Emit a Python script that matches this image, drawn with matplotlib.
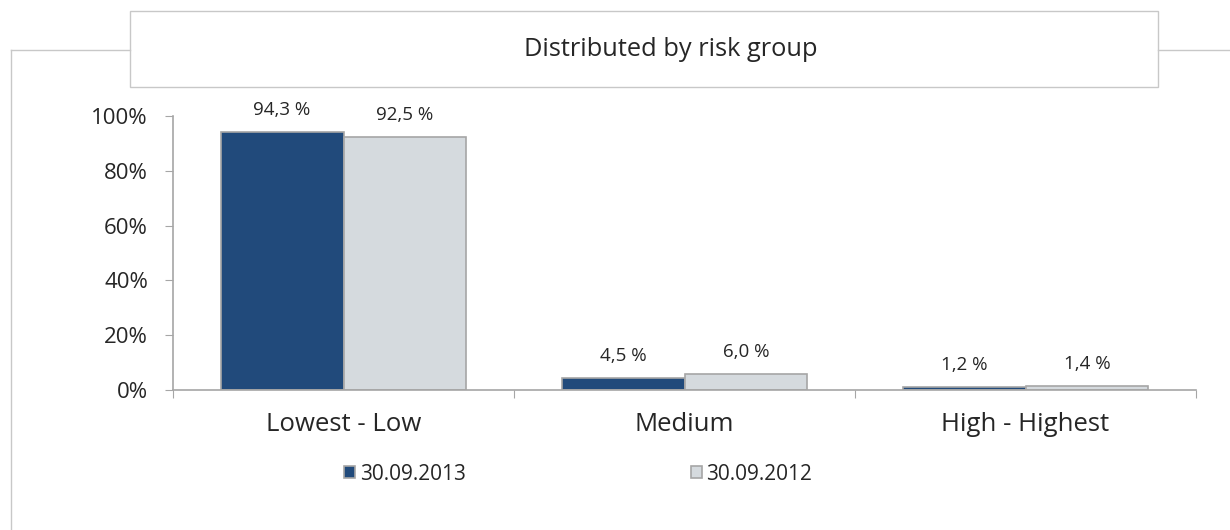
import matplotlib.pyplot as plt
from matplotlib.patches import Rectangle
from matplotlib.lines import Line2D
import numpy as np

# data
categories = ['Lowest - Low', 'Medium', 'High - Highest']
series_names = ['30.09.2013', '30.09.2012']
values_2013 = [94.3, 4.5, 1.2]
values_2012 = [92.5, 6.0, 1.4]
y_ticks = [0, 20, 40, 60, 80, 100]

plt.rcParams['font.family'] = ['Open Sans', 'DejaVu Sans']
text_col = '#262626'
frame_col = '#C8C8C8'
axis_col = '#A6A6A6'
dark = '#214A7B'
light = '#D5DADE'

W, H = 1230, 530
fig = plt.figure(figsize=(W / 100, H / 100), dpi=100)

# outer frame lines and title box
fig.add_artist(Line2D([11 / W, 11 / W], [0, 1 - 50 / H], transform=fig.transFigure, color=frame_col, lw=1))
fig.add_artist(Line2D([11 / W, 130 / W], [1 - 50 / H, 1 - 50 / H], transform=fig.transFigure, color=frame_col, lw=1))
fig.add_artist(Line2D([1158 / W, 1], [1 - 50 / H, 1 - 50 / H], transform=fig.transFigure, color=frame_col, lw=1))
fig.add_artist(Rectangle((130 / W, 1 - 87 / H), (1158 - 130) / W, 76 / H, transform=fig.transFigure,
                         facecolor='white', edgecolor=frame_col, lw=1))
fig.text(671 / W, 1 - 50 / H, 'Distributed by risk group', ha='center', va='center',
         fontsize=18.3, color=text_col)

ax = fig.add_axes([173 / W, 1 - 390 / H, (1196 - 173) / W, (390 - 116) / H])
x = np.arange(len(categories))
bw = 0.36
b1 = ax.bar(x - bw / 2, values_2013, bw, color=dark, edgecolor=axis_col, lw=1.2, label=series_names[0])
b2 = ax.bar(x + bw / 2, values_2012, bw, color=light, edgecolor=axis_col, lw=1.2, label=series_names[1])

for bars, vals in [(b1, values_2013), (b2, values_2012)]:
    for r, v in zip(bars, vals):
        ax.annotate(f'{v:.1f} %'.replace('.', ','), (r.get_x() + r.get_width() / 2, v),
                    xytext=(0, 12), textcoords='offset points', ha='center', va='baseline',
                    fontsize=13.5, color=text_col)

ax.set_xlim(-0.5, 2.5)
ax.set_ylim(0, 100)
ax.set_yticks(y_ticks)
ax.set_yticklabels([f'{t}%' for t in y_ticks])
ax.set_xticks([-0.5, 0.5, 1.5, 2.5])
ax.set_xticklabels([])
ax.set_xticks(x, minor=True)
ax.set_xticklabels(categories, minor=True)
ax.tick_params(axis='x', which='major', length=6, color=axis_col)
ax.tick_params(axis='x', which='minor', length=0, pad=16, labelsize=18.5, labelcolor=text_col)
ax.tick_params(axis='y', length=6, color=axis_col, labelsize=16, labelcolor=text_col, pad=12)

for s in ['top', 'right']:
    ax.spines[s].set_visible(False)
for s in ['left', 'bottom']:
    ax.spines[s].set_color(axis_col)
    ax.spines[s].set_linewidth(1.2)

fig.legend(loc='center', bbox_to_anchor=(578 / W, 1 - 474 / H), ncol=2, frameon=False,
           fontsize=15, handlelength=0.55, handleheight=0.55, handletextpad=0.2,
           columnspacing=10.8, labelcolor=text_col)

fig.savefig('out.png', dpi=100)
